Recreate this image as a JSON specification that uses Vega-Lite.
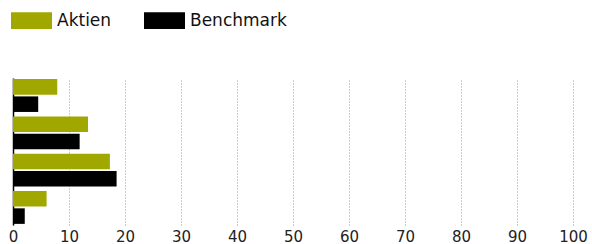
{
  "$schema": "https://vega.github.io/schema/vega-lite/v6.json",
  "autosize": {"type": "none"},
  "width": 560,
  "height": 147,
  "padding": {"left": 13, "top": 78, "right": 19, "bottom": 19},
  "background": "white",
  "data": {
    "values": [
      {"gruppe": "1", "serie": "Aktien", "wert": 7.9},
      {"gruppe": "1", "serie": "Benchmark", "wert": 4.5},
      {"gruppe": "2", "serie": "Aktien", "wert": 13.4},
      {"gruppe": "2", "serie": "Benchmark", "wert": 11.9},
      {"gruppe": "3", "serie": "Aktien", "wert": 17.3},
      {"gruppe": "3", "serie": "Benchmark", "wert": 18.5},
      {"gruppe": "4", "serie": "Aktien", "wert": 6.0},
      {"gruppe": "4", "serie": "Benchmark", "wert": 2.1}
    ]
  },
  "config": {
    "font": "DejaVu Sans",
    "view": {"stroke": null}
  },
  "mark": {"type": "bar"},
  "encoding": {
    "y": {
      "field": "gruppe",
      "type": "nominal",
      "scale": {"paddingInner": 0.12, "paddingOuter": 0.03},
      "axis": {"title": null, "labels": false, "ticks": false, "domain": true, "domainColor": "#000", "domainWidth": 1.5, "grid": false}
    },
    "yOffset": {
      "field": "serie",
      "type": "nominal",
      "scale": {"paddingInner": 0.1}
    },
    "x": {
      "field": "wert",
      "type": "quantitative",
      "scale": {"domain": [0, 100], "nice": false},
      "axis": {
        "title": null,
        "values": [0, 10, 20, 30, 40, 50, 60, 70, 80, 90, 100],
        "domain": false,
        "ticks": false,
        "grid": true,
        "gridColor": "#999",
        "gridDash": [1, 2],
        "gridWidth": 1,
        "labelFontSize": 15,
        "labelColor": "#222",
        "labelPadding": 4,
        "labelFlush": false
      }
    },
    "color": {
      "field": "serie",
      "type": "nominal",
      "scale": {"domain": ["Aktien", "Benchmark"], "range": ["#a0a800", "#000000"]},
      "legend": {
        "title": null,
        "orient": "none",
        "direction": "horizontal",
        "legendX": -2,
        "legendY": -78,
        "symbolType": "M-1,-0.41H1V0.41H-1Z",
        "symbolSize": 1681,
        "symbolStrokeWidth": 0,
        "labelFontSize": 17,
        "labelColor": "#111",
        "labelOffset": 5,
        "columnPadding": 32
      }
    }
  }
}
